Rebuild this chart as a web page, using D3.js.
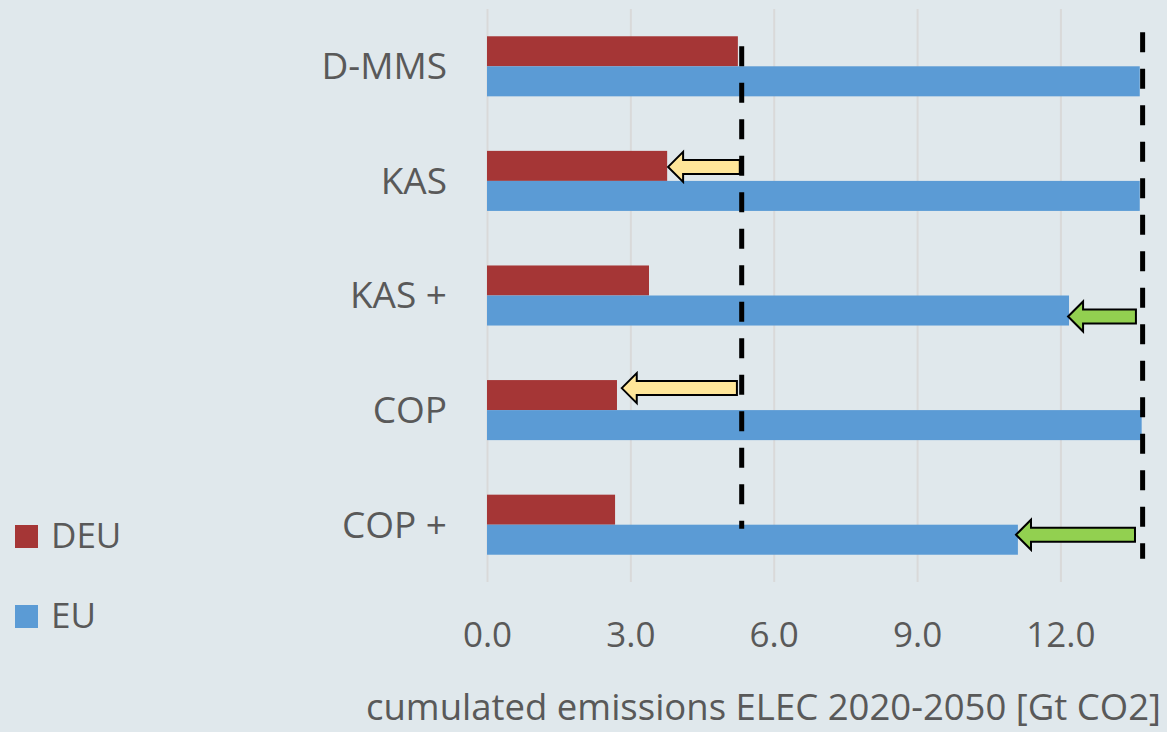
<!DOCTYPE html>
<html>
<head>
<meta charset="utf-8">
<script src="https://cdn.jsdelivr.net/npm/d3@7"></script>
<style>
  html, body { margin: 0; padding: 0; background: #e0e8ec; }
  svg { display: block; }
  text { font-family: "Open Sans", sans-serif; fill: #595959; }
</style>
</head>
<body>
<svg id="chart" width="1167" height="732"></svg>
<script>
// Scenario categories (top to bottom)
const categories = ["D-MMS", "KAS", "KAS +", "COP", "COP +"];
const seriesNames = ["DEU", "EU"];
// Cumulated electricity-sector emissions 2020-2050 [Gt CO2]
const deuValues = [5.25, 3.77, 3.39, 2.72, 2.68];
const euValues  = [13.66, 13.66, 12.18, 13.70, 11.11];
// Reference levels (D-MMS) shown as dashed lines
const referenceDEU = 5.33;
const referenceEU = 13.72;
// Reduction arrows: category, series, start value, end value, fill
const arrowCategory = ["KAS", "COP", "KAS +", "COP +"];
const arrowSeries   = ["DEU", "DEU", "EU", "EU"];
const arrowFrom     = [5.29, 5.23, 13.58, 13.56];
const arrowTo       = [3.79, 2.82, 12.16, 11.07];
const arrowFill     = ["#ffe699", "#ffe699", "#92d050", "#92d050"];
const tickValues = [0, 3, 6, 9, 12];
const axisTitle = "cumulated emissions ELEC 2020-2050 [Gt CO2]";

const colors = { DEU: "#a53636", EU: "#5b9bd5" };

const svg = d3.select("#chart");

const x = d3.scaleLinear().domain([0, 14]).range([487, 1156]);
const y = d3.scaleBand().domain(categories).range([9, 582])
  .paddingInner(0.476).paddingOuter(0.238);
const ySub = d3.scaleBand().domain(seriesNames).range([0, y.bandwidth()]);

// Vertical gridlines
const grid = svg.append("g")
  .attr("transform", "translate(0,582)")
  .call(d3.axisBottom(x).tickValues(tickValues).tickSize(-573).tickFormat(""));
grid.select(".domain").remove();
grid.selectAll("line").attr("stroke", "#d9d9d9").attr("stroke-width", 2);

// Bars
const rows = categories.map((c, i) => ({ cat: c, DEU: deuValues[i], EU: euValues[i] }));
const groups = svg.append("g").selectAll("g").data(rows).join("g")
  .attr("transform", d => `translate(0,${y(d.cat)})`);
groups.selectAll("rect")
  .data(d => seriesNames.map(s => ({ s, v: d[s] })))
  .join("rect")
  .attr("x", x(0))
  .attr("y", d => ySub(d.s))
  .attr("width", d => x(d.v) - x(0))
  .attr("height", ySub.bandwidth())
  .attr("fill", d => colors[d.s]);

// Dashed reference lines
const dash = svg.append("g")
  .attr("stroke", "#000").attr("stroke-width", 5).attr("stroke-dasharray", "20,16.5");
dash.append("line")
  .attr("x1", x(referenceDEU)).attr("x2", x(referenceDEU))
  .attr("y1", y("D-MMS") + ySub("DEU") + 10)
  .attr("y2", y("COP +") + ySub("EU") + 4);
dash.append("line")
  .attr("x1", x(referenceEU)).attr("x2", x(referenceEU))
  .attr("y1", y("D-MMS") - 4)
  .attr("y2", y("COP +") + y.bandwidth() + 4);

// Arrows pointing from the reference level to the scenario value
const arrowNudge = { "KAS": 1, "COP": -7, "KAS +": 6, "COP +": -5 };
const shaftH = 14, headH = 30, headL = 15;
arrowCategory.forEach((c, i) => {
  const cy = y(c) + ySub(arrowSeries[i]) + ySub.bandwidth() / 2 + arrowNudge[c];
  const x0 = x(arrowFrom[i]), x1 = x(arrowTo[i]);
  const pts = [
    [x1, cy],
    [x1 + headL, cy - headH / 2],
    [x1 + headL, cy - shaftH / 2],
    [x0, cy - shaftH / 2],
    [x0, cy + shaftH / 2],
    [x1 + headL, cy + shaftH / 2],
    [x1 + headL, cy + headH / 2]
  ];
  svg.append("path")
    .attr("d", d3.line()(pts) + "Z")
    .attr("fill", arrowFill[i])
    .attr("stroke", "#000")
    .attr("stroke-width", 2)
    .attr("stroke-linejoin", "miter");
});

// Category axis
const yAxis = svg.append("g")
  .attr("transform", "translate(447,0)")
  .call(d3.axisLeft(y).tickSize(0).tickPadding(0));
yAxis.select(".domain").remove();
yAxis.selectAll("text")
  .attr("dy", "0.35em")
  .style("font-size", "37px")
  .style("font-family", "'Open Sans', sans-serif")
  .attr("fill", "#595959");

// Value axis labels
const xAxis = svg.append("g")
  .attr("transform", "translate(0,647)")
  .call(d3.axisBottom(x).tickValues(tickValues).tickSize(0).tickPadding(0)
    .tickFormat(d3.format(".1f")));
xAxis.select(".domain").remove();
xAxis.selectAll("text")
  .attr("dy", 0).attr("y", 0)
  .style("font-size", "35px")
  .style("font-family", "'Open Sans', sans-serif")
  .attr("fill", "#595959");

// Axis title
svg.append("text")
  .attr("x", 1161).attr("y", 720)
  .attr("text-anchor", "end")
  .style("font-size", "36.5px")
  .text(axisTitle);

// Legend
const legend = svg.append("g");
seriesNames.forEach((s, i) => {
  const gy = 525 + i * 80;
  legend.append("rect")
    .attr("x", 15).attr("y", gy).attr("width", 23).attr("height", 23)
    .attr("fill", colors[s]);
  legend.append("text")
    .attr("x", 51).attr("y", gy + 23)
    .style("font-size", "35px")
    .text(s);
});
</script>
</body>
</html>
